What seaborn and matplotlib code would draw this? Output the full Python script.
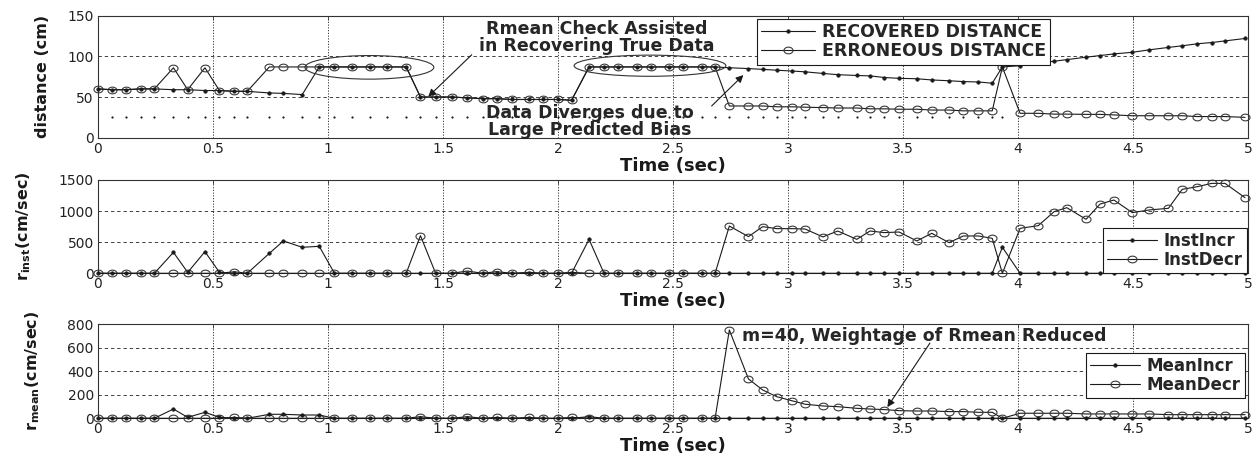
import numpy as np
import pandas as pd
import matplotlib
matplotlib.use("Agg")
import matplotlib.pyplot as plt
import seaborn as sns
from matplotlib.path import Path
from matplotlib.patches import Ellipse
from matplotlib.ticker import FuncFormatter

# ---------------- data ----------------
time_s = [0.000, 0.059, 0.120, 0.187, 0.245, 0.328, 0.390, 0.465, 0.528, 0.593,
          0.649, 0.745, 0.806, 0.888, 0.962, 1.028, 1.106, 1.183, 1.258, 1.340,
          1.402, 1.468, 1.538, 1.606, 1.672, 1.733, 1.799, 1.874, 1.936, 2.001,
          2.059, 2.135, 2.200, 2.262, 2.342, 2.403, 2.484, 2.545, 2.625, 2.683,
          2.745, 2.828, 2.890, 2.951, 3.016, 3.074, 3.152, 3.216, 3.299, 3.357,
          3.419, 3.483, 3.560, 3.625, 3.700, 3.762, 3.828, 3.888, 3.932, 4.009,
          4.088, 4.157, 4.212, 4.296, 4.357, 4.417, 4.497, 4.570, 4.654, 4.714,
          4.780, 4.842, 4.900, 4.987]

recovered_cm = [60, 59, 59, 60, 60, 59, 59, 58, 58, 57,
                57, 55, 54.5, 53, 87, 87, 87, 87, 87, 87,
                50, 50, 50, 49, 48, 48, 47, 47, 47, 47,
                46, 87, 87, 87, 87, 87, 87, 87, 87, 87,
                86, 85, 84, 83, 82, 81, 79, 77.5, 76.5, 76,
                74, 73, 72.5, 71, 70, 69, 68.5, 67, 87, 88.5,
                92, 94, 96, 99, 101, 103, 105, 108, 111, 113,
                115.5, 117, 119, 122]

erroneous_cm = [60, 59, 59, 60, 60, 86, 59, 86, 58, 57,
                57, 87, 87, 87, 87, 87, 87, 87, 87, 87,
                50, 50, 50, 49, 48, 48, 47, 47, 47, 47,
                46, 87, 87, 87, 87, 87, 87, 87, 87, 87,
                39, 39, 39, 38, 38, 37.5, 37, 36.5, 36.5, 35.5,
                35.5, 35, 35, 34, 34, 33, 33, 33, 87, 30,
                30, 29, 29, 28.7, 28.7, 28, 27, 27, 27, 27,
                26, 26, 26, 25]

threshold_cm = 25
threshold_first, threshold_last = 1, 58   # sample indices where the dotted level is drawn

inst_incr = [0, 0, 0, 0, 0, 337, 15, 348, 15, 0,
             0, 321, 520, 418, 434, 0, 0, 0, 0, 0,
             0, 0, 0, 0, 0, 0, 0, 0, 0, 0,
             0, 546, 0, 0, 0, 0, 0, 0, 0, 0,
             0, 0, 0, 0, 0, 0, 0, 0, 0, 0,
             0, 0, 0, 0, 0, 0, 0, 0, 418, 0,
             0, 0, 0, 0, 0, 0, 0, 0, 0, 0,
             0, 0, 0, 0]

inst_decr = [0, 0, 0, 0, 0, 0, 0, 0, 0, 25,
             0, 0, 0, 0, 0, 0, 0, 0, 0, 0,
             605, 0, 0, 37, 0, 27, 0, 16, 0, 0,
             16, 0, 0, 0, 0, 0, 0, 0, 0, 0,
             760, 590, 750, 718, 718, 712, 585, 680, 546, 680,
             654, 664, 520, 643, 493, 600, 600, 562, 0, 723,
             766, 991, 1055, 868, 1114, 1178, 975, 1018, 1045, 1350,
             1393, 1446, 1446, 1216]

mean_incr = [0, 0, 0, 0, 0, 79, 8, 51, 8, 0,
             0, 34, 34, 28, 28, 0, 0, 0, 0, 0,
             0, 0, 0, 0, 0, 0, 0, 0, 0, 0,
             0, 14, 0, 0, 0, 0, 0, 0, 0, 0,
             0, 0, 0, 0, 0, 0, 0, 0, 0, 0,
             0, 0, 0, 0, 0, 0, 0, 0, 0, 0,
             0, 0, 0, 0, 0, 0, 0, 0, 0, 0,
             0, 0, 0, 0]

mean_decr = [0, 0, 0, 0, 0, 0, 0, 0, 0, 8,
             0, 0, 0, 0, 0, 0, 0, 0, 0, 0,
             14, 0, 0, 14, 0, 8, 0, 8, 0, 0,
             8, 0, 0, 0, 0, 0, 0, 0, 0, 0,
             752, 335, 241, 184, 150, 120, 105, 99, 85, 79,
             74, 65, 62, 62, 57, 57, 51, 51, 0, 43,
             43, 43, 43, 37, 37, 37, 37, 37, 31, 31,
             31, 31, 31, 31]

x_ticks = [0, 0.5, 1, 1.5, 2, 2.5, 3, 3.5, 4, 4.5, 5]
dist_ticks = [0, 50, 100, 150]
inst_ticks = [0, 500, 1000, 1500]
mean_ticks = [0, 200, 400, 600, 800]

# annotation ellipses: (centre t, centre value, width, height)
ellipses = [(1.18, 86.5, 0.56, 29), (2.40, 88.5, 0.66, 26)]

df = pd.DataFrame({"t": time_s, "rec": recovered_cm, "err": erroneous_cm,
                   "ii": inst_incr, "id": inst_decr,
                   "mi": mean_incr, "md": mean_decr})

# ---------------- style ----------------
sns.set_theme(style="white")
plt.rcParams.update({
    "font.family": ["DejaVu Sans"],
    "mathtext.fontset": "custom",
    "mathtext.rm": "DejaVu Sans:bold",
    "mathtext.default": "rm",
    "axes.edgecolor": "#333333",
    "axes.linewidth": 0.8,
    "xtick.color": "#333333",
    "ytick.color": "#333333",
})

W, H = 1254, 455
fig = plt.figure(figsize=(W / 100, H / 100), dpi=100)
fig.patch.set_facecolor("white")

def rect(top_px, bottom_px, left_px=98, right_px=1248):
    return [left_px / W, 1 - bottom_px / H, (right_px - left_px) / W, (bottom_px - top_px) / H]

ax1 = fig.add_axes(rect(15.7, 137.7))
ax2 = fig.add_axes(rect(180.0, 273.3))
ax3 = fig.add_axes(rect(324.3, 418.3))

th = np.linspace(0, 2 * np.pi, 49)
ell_marker = Path(np.column_stack([1.35 * np.cos(th), np.sin(th)]))

dot_kw = dict(color="k", lw=0.8, marker="o", markersize=2.5, mfc="k", mec="k", mew=0.5,
              estimator=None, sort=False, clip_on=False, zorder=4)
circ_kw = dict(color="k", lw=0.8, marker=ell_marker, markersize=6.5, mfc="none", mec="#3a3a3a",
               mew=0.8, estimator=None, sort=False, clip_on=False, zorder=3)

fmt = FuncFormatter(lambda v, p: f"{v:g}")

def style_axes(ax, yticks, ylabel, ylabel_x, xlabel_y):
    ax.set_xlim(0, 5)
    ax.set_ylim(yticks[0], yticks[-1])
    ax.set_xticks(x_ticks)
    ax.set_yticks(yticks)
    ax.xaxis.set_major_formatter(fmt)
    ax.yaxis.set_major_formatter(fmt)
    ax.tick_params(direction="in", length=3, width=0.6, top=True, right=True,
                   labelsize=10, pad=3, labelcolor="#222222")
    ax.yaxis.grid(True, linestyle=(0, (4, 3.5)), color="#222222", lw=0.6)
    ax.xaxis.grid(True, linestyle=(0, (1.5, 1.8)), color="#222222", lw=0.6)
    ax.set_axisbelow(True)
    ax.set_xlabel("Time (sec)", fontsize=13, fontweight="bold", color="k")
    ax.xaxis.set_label_coords(0.5, xlabel_y)
    ax.set_ylabel(ylabel, fontsize=11.5, fontweight="bold", color="k")
    ax.yaxis.set_label_coords(ylabel_x, 0.5)
    for s in ax.spines.values():
        s.set_visible(True)

# ---------- top: distance ----------
sns.scatterplot(x=df["t"].iloc[threshold_first:threshold_last + 1],
                y=np.full(threshold_last - threshold_first + 1, threshold_cm),
                ax=ax1, s=2.5, color="k", linewidth=0, legend=False, zorder=2)
sns.lineplot(data=df, x="t", y="err", ax=ax1, label="ERRONEOUS DISTANCE", **circ_kw)
sns.lineplot(data=df, x="t", y="rec", ax=ax1, label="RECOVERED DISTANCE", **dot_kw)
style_axes(ax1, dist_ticks, "distance (cm)", -0.042, -0.156)

for (cx, cy, ew, eh) in ellipses:
    ax1.add_patch(Ellipse((cx, cy), ew, eh, fill=False, edgecolor="#333333", lw=0.8, zorder=5))

arrow_kw = dict(arrowstyle="-|>", color="k", lw=0.8, mutation_scale=11, shrinkA=0, shrinkB=0)
ax1.annotate("", xy=(1.436, 50.5), xytext=(1.625, 102), arrowprops=arrow_kw, zorder=6)
ax1.text(2.17, 123, "Rmean Check Assisted\nin Recovering True Data", ha="center", va="center",
         fontsize=12.5, fontweight="bold", linespacing=0.9, zorder=6)
ax1.annotate("", xy=(2.806, 77), xytext=(2.668, 39), arrowprops=arrow_kw, zorder=6)
ax1.text(2.14, 20, "Data Diverges due to\nLarge Predicted Bias", ha="center", va="center",
         fontsize=12.5, fontweight="bold", linespacing=0.9, zorder=6)

h, l = ax1.get_legend_handles_labels()
order = [l.index("RECOVERED DISTANCE"), l.index("ERRONEOUS DISTANCE")]
leg_kw = dict(frameon=True, fancybox=False, framealpha=1, edgecolor="k", borderaxespad=0,
              handlelength=3.0, handletextpad=0.4, labelspacing=0.05, borderpad=0.25,
              prop={"weight": "bold", "size": 12})
top_leg_kw = dict(leg_kw, prop={"weight": "bold", "size": 12.5}, handlelength=3.1)
lg = ax1.legend([h[i] for i in order], [l[i] for i in order], loc="upper right",
                bbox_to_anchor=(0.828, 0.973), **top_leg_kw)
lg.get_frame().set_linewidth(0.8)
lg.set_zorder(10)

# ---------- middle: instantaneous rates ----------
sns.lineplot(data=df, x="t", y="id", ax=ax2, label="InstDecr", **circ_kw)
sns.lineplot(data=df, x="t", y="ii", ax=ax2, label="InstIncr", **dot_kw)
style_axes(ax2, inst_ticks, r"r$_{inst}$(cm/sec)", -0.0565, -0.204)
h, l = ax2.get_legend_handles_labels()
order = [l.index("InstIncr"), l.index("InstDecr")]
lg = ax2.legend([h[i] for i in order], [l[i] for i in order], loc="lower right",
                bbox_to_anchor=(0.999, 0.006), **leg_kw)
lg.get_frame().set_linewidth(0.8)
lg.set_zorder(10)

# ---------- bottom: mean rates ----------
sns.lineplot(data=df, x="t", y="md", ax=ax3, label="MeanDecr", **circ_kw)
sns.lineplot(data=df, x="t", y="mi", ax=ax3, label="MeanIncr", **dot_kw)
style_axes(ax3, mean_ticks, r"r$_{mean}$(cm/sec)", -0.049, -0.196)
ax3.text(2.80, 700, "m=40, Weightage of Rmean Reduced", ha="left", va="center",
         fontsize=12.5, fontweight="bold", zorder=6)
ax3.annotate("", xy=(3.432, 95), xytext=(3.617, 640), arrowprops=arrow_kw, zorder=6)
h, l = ax3.get_legend_handles_labels()
order = [l.index("MeanIncr"), l.index("MeanDecr")]
lg = ax3.legend([h[i] for i in order], [l[i] for i in order], loc="lower right",
                bbox_to_anchor=(0.9974, 0.213), **leg_kw)
lg.get_frame().set_linewidth(0.8)
lg.set_zorder(10)

fig.savefig("out.png", dpi=100, facecolor="white")
